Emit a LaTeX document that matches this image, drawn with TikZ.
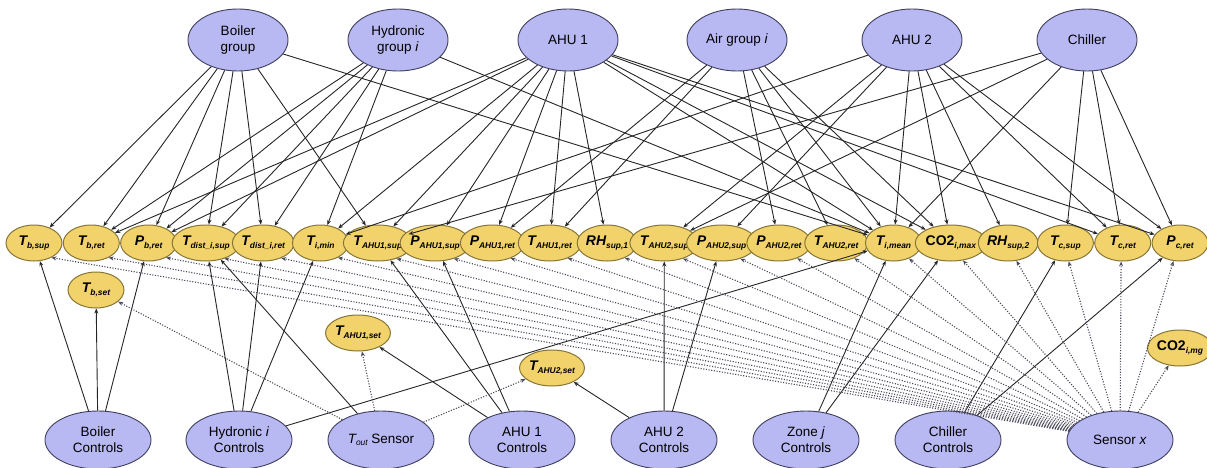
\documentclass[tikz,border=0pt]{standalone}
\usepackage{fontspec}
\setmainfont{Liberation Sans}
\usetikzlibrary{shapes.geometric,arrows.meta}
\definecolor{lav}{HTML}{B8B8F2}
\definecolor{lavd}{HTML}{3E3E5E}
\definecolor{yel}{HTML}{F2D36B}
\definecolor{yeld}{HTML}{857536}
\definecolor{edg}{HTML}{252525}
\definecolor{dotc}{HTML}{484858}
\newcommand\mysub[1]{\raisebox{-0.35ex}{\fontsize{8.4}{10}\selectfont#1}}
\begin{document}
\begin{tikzpicture}[x=1pt,y=-1pt,
  sysnode/.style={ellipse,draw=lavd,fill=lav,line width=0.9pt,minimum width=100pt,minimum height=62pt,inner sep=0pt,align=center,font=\fontsize{13.5}{16}\selectfont},
  ctlnode/.style={sysnode,minimum width=106pt,minimum height=58pt},
  ptnode/.style={ellipse,draw=yeld,fill=yel,line width=1pt,minimum width=56pt,minimum height=36pt,inner sep=0pt,font=\fontsize{14}{15}\selectfont\bfseries\itshape},
  sol/.style={draw=edg,line width=0.9pt,-{Stealth[length=5pt,width=4pt]}},
  sensline/.style={draw=dotc,line width=1.1pt,dash pattern=on 1.1pt off 1.6pt,-{Stealth[length=5pt,width=4pt]}}]
\useasboundingbox (0,0) rectangle (1207,468);
% top system nodes
\node[sysnode] (B)  at (238,40) {Boiler\\group};
\node[sysnode] (H)  at (398,40) {Hydronic\\group \textit{i}};
\node[sysnode] (A1) at (568,40) {AHU 1};
\node[sysnode] (AG) at (737,40) {Air group \textit{i}};
\node[sysnode] (A2) at (912,40) {AHU 2};
\node[sysnode] (C)  at (1087,40) {Chiller};
% middle point nodes
\node[ptnode] (m1)  at (34,243)    {T\mysub{b,sup}};
\node[ptnode] (m2)  at (91.3,243)  {T\mysub{b,ret}};
\node[ptnode] (m3)  at (148.6,243) {P\mysub{b,ret}};
\node[ptnode] (m4)  at (205.9,243) {T\mysub{dist\_i,sup}};
\node[ptnode] (m5)  at (263.2,243) {T\mysub{dist\_i,ret}};
\node[ptnode] (m6)  at (320.5,243) {T\mysub{i,min}};
\node[ptnode] (m7)  at (377.8,243) {T\mysub{AHU1,sup}};
\node[ptnode] (m8)  at (435.1,243) {P\mysub{AHU1,sup}};
\node[ptnode] (m9)  at (492.4,243) {P\mysub{AHU1,ret}};
\node[ptnode] (m10) at (549.7,243) {T\mysub{AHU1,ret}};
\node[ptnode] (m11) at (607,243)   {RH\mysub{sup,1}};
\node[ptnode] (m12) at (664.3,243) {T\mysub{AHU2,sup}};
\node[ptnode] (m13) at (721.6,243) {P\mysub{AHU2,sup}};
\node[ptnode] (m14) at (778.9,243) {P\mysub{AHU2,ret}};
\node[ptnode] (m15) at (836.2,243) {T\mysub{AHU2,ret}};
\node[ptnode] (m16) at (893.5,243) {T\mysub{i,mean}};
\node[ptnode] (m17) at (950.8,243) {{\upshape CO2}\mysub{i,max}};
\node[ptnode] (m18) at (1008.1,243) {RH\mysub{sup,2}};
\node[ptnode] (m19) at (1065.4,243) {T\mysub{c,sup}};
\node[ptnode] (m20) at (1122.7,243) {T\mysub{c,ret}};
\node[ptnode] (m21) at (1180,243)   {P\mysub{c,ret}};
% set points
\node[ptnode] (tbset)  at (96,290)  {T\mysub{b,set}};
\node[ptnode] (ta1set) at (358,333) {T\mysub{AHU1,set}};
\node[ptnode] (ta2set) at (552,368) {T\mysub{AHU2,set}};
\node[ptnode] (co2mg)  at (1180,348) {{\upshape CO2}\mysub{i,mg}};
% bottom control nodes
\node[ctlnode] (bc)  at (98,440)  {Boiler\\Controls};
\node[ctlnode] (hc)  at (239,440) {Hydronic \textit{i}\\Controls};
\node[ctlnode] (ts)  at (381,440) {\textit{T\mysub{out}} Sensor};
\node[ctlnode] (a1c) at (522,440) {AHU 1\\Controls};
\node[ctlnode] (a2c) at (664,440) {AHU 2\\Controls};
\node[ctlnode] (zc)  at (806,440) {Zone \textit{j}\\Controls};
\node[ctlnode] (cc)  at (948,440) {Chiller\\Controls};
\node[ctlnode] (sx)  at (1120,440) {Sensor \textit{x}};
% system -> point edges
\foreach \s/\t in {B/m1,B/m2,B/m3,B/m4,B/m5,B/m7,B/m16,
  H/m2,H/m3,H/m4,H/m5,H/m6,H/m16,
  A1/m2,A1/m3,A1/m6,A1/m7,A1/m8,A1/m9,A1/m10,A1/m11,A1/m16,A1/m17,A1/m20,A1/m21,
  AG/m9,AG/m10,AG/m14,AG/m15,AG/m16,AG/m17,
  A2/m6,A2/m12,A2/m13,A2/m16,A2/m17,A2/m18,A2/m20,A2/m21,
  C/m7,C/m12,C/m16,C/m19,C/m20,C/m21}
  \draw[sol] (\s) -- (\t);
% controls -> point edges
\foreach \s/\t in {bc/m1,bc/tbset,bc/m3,
  hc/m4,hc/m5,hc/m6,hc/m16,
  ts/m4,
  a1c/m7,a1c/m8,a1c/ta1set,
  a2c/m12,a2c/m13,a2c/ta2set,
  zc/m16,zc/m17,
  cc/m19,cc/m21}
  \draw[sol] (\s) -- (\t);
% sensor edges (dotted)
\foreach \t in {tbset,ta1set,ta2set}
  \draw[sensline] (ts) -- (\t);
\foreach \t/\a in {m1/-40,m2/-40,m3/-40,m4/-40,m5/-40,m6/-40,m7/-40,m8/-40,m9/-40,m10/-40,
  m11/-40,m12/-40,m13/-40,m14/-40,m15/-40,m16/-45,m17/-55,m18/-65,m19/-80,m20/-95,m21/-110}
  \draw[sensline] (sx) -- (\t.\a);
\draw[sensline] (sx) -- (co2mg);
\end{tikzpicture}
\end{document}
